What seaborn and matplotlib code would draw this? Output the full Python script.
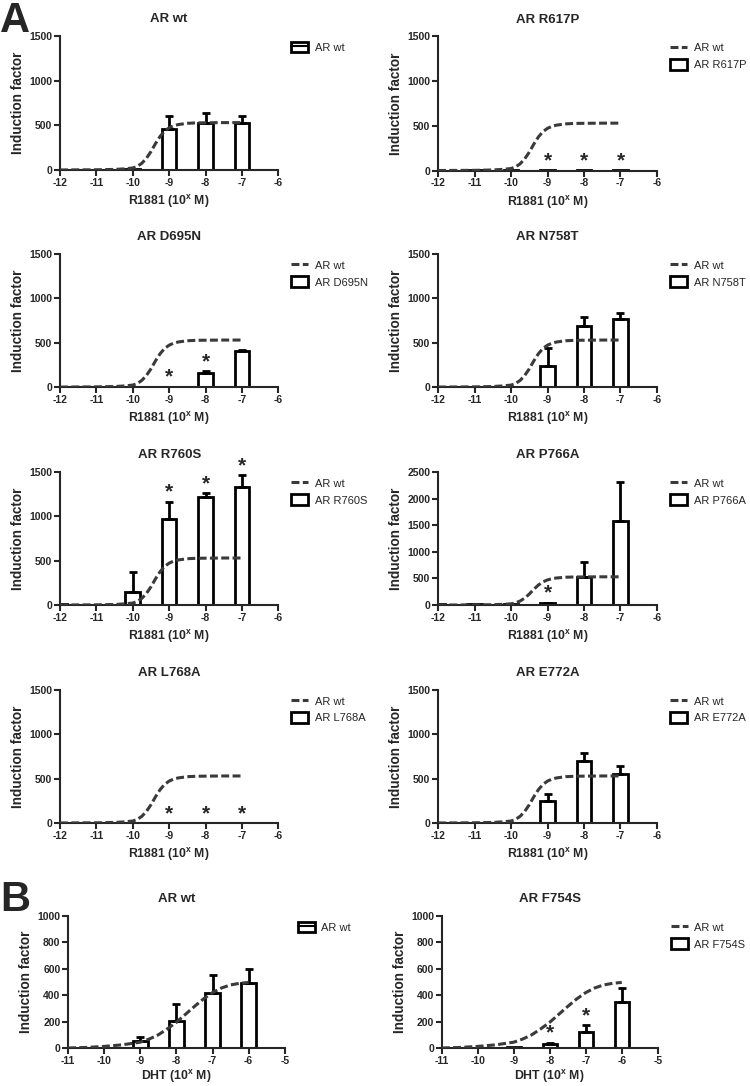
import numpy as np
import matplotlib.pyplot as plt
import seaborn as sns
from matplotlib.patches import Patch
from matplotlib.lines import Line2D

# wt fitted curves (log dose, induction factor)
r1881_curve_x = [-12, -11.5, -11, -10.5, -10.25, -10, -9.875, -9.75, -9.625, -9.5, -9.375,
                 -9.25, -9.125, -9, -8.875, -8.75, -8.5, -8.25, -8, -7.5, -7]
r1881_curve_y = [0, 1, 2, 6, 12, 22, 40, 75, 130, 205, 295,
                 375, 435, 472, 495, 508, 522, 527, 528, 530, 530]
dht_curve_x = [-11, -10.5, -10, -9.5, -9, -8.75, -8.5, -8.25, -8, -7.75, -7.5,
               -7.25, -7, -6.75, -6.5, -6.25, -6]
dht_curve_y = [0, 4, 12, 24, 44, 68, 100, 145, 195, 255, 315,
               372, 420, 455, 478, 490, 497]

# bars (mean, SD) per receptor
wt_dose = [-11, -10, -9, -8, -7]
wt_mean = [2, 10, 456, 530, 530]
wt_sd = [0, 0, 152, 105, 75]

r617p_dose = [-11, -10, -9, -8, -7]
r617p_mean = [5, 5, 5, 5, 5]
r617p_sd = [0, 0, 0, 0, 0]
r617p_stars = [-9, -8, -7]

d695n_dose = [-11, -10, -9, -8, -7]
d695n_mean = [3, 3, 5, 160, 410]
d695n_sd = [0, 0, 0, 22, 6]
d695n_stars = [-9, -8]

n758t_dose = [-11, -10, -9, -8, -7]
n758t_mean = [2, 2, 232, 693, 768]
n758t_sd = [0, 0, 208, 95, 68]

r760s_dose = [-12, -11, -10, -9, -8, -7]
r760s_mean = [10, 5, 150, 975, 1217, 1331]
r760s_sd = [0, 0, 223, 189, 45, 130]
r760s_stars = [-9, -8, -7]

p766a_dose = [-12, -11, -10, -9, -8, -7]
p766a_mean = [10, 10, 10, 35, 535, 1587]
p766a_sd = [0, 0, 0, 10, 265, 724]
p766a_stars = [-9]

l768a_dose = [-9, -8, -7]
l768a_mean = [0, 0, 0]
l768a_sd = [0, 0, 0]
l768a_stars = [-9, -8, -7]

e772a_dose = [-11, -10, -9, -8, -7]
e772a_mean = [3, 5, 251, 694, 548]
e772a_sd = [0, 0, 75, 90, 97]

dht_wt_dose = [-9, -8, -7, -6]
dht_wt_mean = [55, 203, 418, 494]
dht_wt_sd = [29, 134, 134, 101]

f754s_dose = [-9, -8, -7, -6]
f754s_mean = [5, 33, 122, 349]
f754s_sd = [0, 7, 51, 102]
f754s_stars = [-8, -7]

sns.set_style("ticks")
plt.rcParams['font.family'] = ['Liberation Sans', 'DejaVu Sans']
plt.rcParams['font.weight'] = 'bold'
plt.rcParams['mathtext.fontset'] = 'custom'
plt.rcParams['mathtext.rm'] = 'Liberation Sans:bold'
plt.rcParams['mathtext.bf'] = 'Liberation Sans:bold'

fig = plt.figure(figsize=(7.5, 10.86), dpi=100)

r1881_label = r"R1881 (10$^\mathbf{x}$ M)"
dht_label = r"DHT (10$^\mathbf{x}$ M)"
curve_col = '#3a3a3a'
dash = (0, (2.6, 1.1))

# title, rect, dose, mean, sd, stars, curve, ymax, ystep, xrange, xlabel, is_wt
panels = [
    ("AR wt", [0.080, 0.8435, 0.291, 0.1234], wt_dose, wt_mean, wt_sd, [],
     (r1881_curve_x, r1881_curve_y), 1500, 500, (-12, -6), r1881_label, True),
    ("AR R617P", [0.584, 0.8430, 0.292, 0.1234], r617p_dose, r617p_mean, r617p_sd, r617p_stars,
     (r1881_curve_x, r1881_curve_y), 1500, 500, (-12, -6), r1881_label, False),
    ("AR D695N", [0.080, 0.6436, 0.291, 0.1225], d695n_dose, d695n_mean, d695n_sd, d695n_stars,
     (r1881_curve_x, r1881_curve_y), 1500, 500, (-12, -6), r1881_label, False),
    ("AR N758T", [0.584, 0.6436, 0.292, 0.1225], n758t_dose, n758t_mean, n758t_sd, [],
     (r1881_curve_x, r1881_curve_y), 1500, 500, (-12, -6), r1881_label, False),
    ("AR R760S", [0.080, 0.4429, 0.291, 0.1225], r760s_dose, r760s_mean, r760s_sd, r760s_stars,
     (r1881_curve_x, r1881_curve_y), 1500, 500, (-12, -6), r1881_label, False),
    ("AR P766A", [0.584, 0.4429, 0.292, 0.1225], p766a_dose, p766a_mean, p766a_sd, p766a_stars,
     (r1881_curve_x, r1881_curve_y), 2500, 500, (-12, -6), r1881_label, False),
    ("AR L768A", [0.080, 0.2422, 0.291, 0.1225], l768a_dose, l768a_mean, l768a_sd, l768a_stars,
     (r1881_curve_x, r1881_curve_y), 1500, 500, (-12, -6), r1881_label, False),
    ("AR E772A", [0.584, 0.2422, 0.292, 0.1225], e772a_dose, e772a_mean, e772a_sd, [],
     (r1881_curve_x, r1881_curve_y), 1500, 500, (-12, -6), r1881_label, False),
    ("AR wt", [0.0907, 0.0350, 0.289, 0.1215], dht_wt_dose, dht_wt_mean, dht_wt_sd, [],
     (dht_curve_x, dht_curve_y), 1000, 200, (-11, -5), dht_label, True),
    ("AR F754S", [0.589, 0.0350, 0.288, 0.1215], f754s_dose, f754s_mean, f754s_sd, f754s_stars,
     (dht_curve_x, dht_curve_y), 1000, 200, (-11, -5), dht_label, False),
]

for title, rect, dose, mean, sd, stars, curve, ymax, ystep, xr, xlabel, is_wt in panels:
    ax = fig.add_axes(rect)
    sns.barplot(x=dose, y=mean, native_scale=True, width=0.4, color='white',
                edgecolor='black', linewidth=2.0, errorbar=None, ax=ax, zorder=2)
    dose_a = np.array(dose, dtype=float)
    mean_a = np.array(mean, dtype=float)
    sd_a = np.array(sd, dtype=float)
    m = sd_a > 0
    if m.any():
        ax.errorbar(dose_a[m], mean_a[m], yerr=[np.zeros(m.sum()), sd_a[m]], fmt='none',
                    ecolor='black', elinewidth=2.0, capsize=3.2, capthick=2.0, zorder=2)
    sns.lineplot(x=curve[0], y=curve[1], ax=ax, color=curve_col, linewidth=2.2,
                 linestyle=dash, zorder=3)
    for s in stars:
        i = dose.index(s)
        ax.annotate('*', (s, mean[i] + sd[i]), xytext=(0, 0), textcoords='offset points',
                    ha='center', va='bottom', fontsize=15, fontweight='bold')

    ax.set_xlim(*xr)
    ax.set_xticks(range(xr[0], xr[1] + 1))
    ax.set_xticklabels([str(t) for t in range(xr[0], xr[1] + 1)])
    ax.set_ylim(0, ymax)
    ax.set_yticks(range(0, ymax + 1, ystep))
    sns.despine(ax=ax)
    for sp in ax.spines.values():
        sp.set_linewidth(1.5)
    ax.tick_params(direction='out', length=4, width=1.5, labelsize=7.5, pad=1.5)
    ax.set_xlabel(xlabel, fontsize=8.8, fontweight='bold', labelpad=2 if ymax == 1000 else 4)
    ax.set_ylabel("Induction factor", fontsize=9.8, fontweight='bold', labelpad=3)
    ax.set_title(title, fontsize=9.5, fontweight='bold', pad=10)

    if is_wt:
        handles = [(Patch(facecolor='white', edgecolor='black', linewidth=2.0),
                    Line2D([], [], color='black', linewidth=1.5))]
        labels = ["AR wt"]
    else:
        handles = [Line2D([], [], color=curve_col, linewidth=2.2, linestyle=dash),
                   Patch(facecolor='white', edgecolor='black', linewidth=2.0)]
        labels = ["AR wt", title]
    ax.legend(handles, labels, loc='upper left', bbox_to_anchor=(1.04, 0.99), frameon=False,
              prop={'size': 8, 'weight': 'normal'}, handlelength=1.5, handleheight=1.1,
              handletextpad=0.6, labelspacing=0.5, borderaxespad=0)

fig.text(0.0, 0.999, "A", fontsize=30, fontweight='bold', va='top', ha='left')
fig.text(0.0, 1 - 880 / 1086, "B", fontsize=30, fontweight='bold', va='top', ha='left')

fig.savefig("out.png", dpi=100)
